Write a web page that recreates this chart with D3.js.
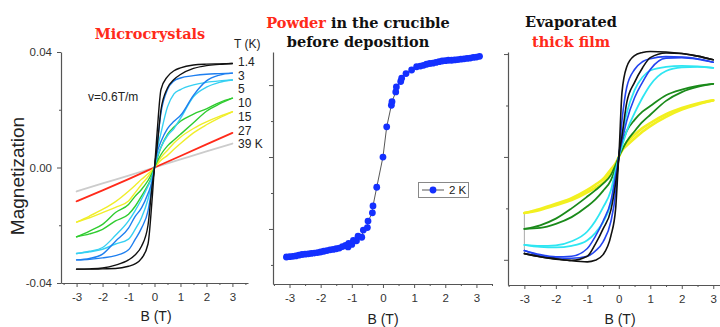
<!DOCTYPE html>
<html><head><meta charset="utf-8">
<script src="https://cdn.jsdelivr.net/npm/d3@7"></script>
<style>body{margin:0;background:#fff} svg{display:block}</style>
</head><body><svg id="c" width="720" height="327"></svg>
<script>
// ---------- shared ----------
const fieldGrid = [-3,-2.5,-2,-1.5,-1,-0.75,-0.5,-0.25,-0.1,0,0.1,0.25,0.5,0.75,1,1.5,2,2.5,3];
const linField = [-3,-2,-1,0,1,2,3];
const xMajorTicks = [-3,-2,-1,0,1,2,3];
const xTickLabels = ["-3","-2","-1","0","1","2","3"];
const xMinorTicks = [-3.5,-2.5,-1.5,-0.5,0.5,1.5,2.5,3.5];

// ---------- panel 1: microcrystals (values in units of 1e-3) ----------
const microTemps = ["1.4","3","5","10","15","27","39 K"];
const microColors = ["#111111","#1e7ff0","#36d0f2","#2fcc2f","#f0ee2a","#ff2a1a","#cccccc"];
const micro14Down = [-35.2,-35.1,-34.8,-33.8,-32.0,-30.3,-27.3,-20.0,-7.0,0,12.0,27.0,31.5,33.5,34.5,35.5,35.8,35.9,36.0];
const micro14Up   = [-35.2,-35.2,-35.1,-35.0,-34.2,-33.4,-31.5,-26.5,-12.0,0,7.0,20.0,27.5,30.5,32.2,34.3,35.3,35.7,36.0];
const micro3Down  = [-32.0,-31.5,-30.0,-25.5,-21.0,-17.0,-14.0,-9.0,-5.0,0,8.0,19.0,27.0,30.0,31.0,31.8,32.3,32.5,32.7];
const micro3Up    = [-32.0,-31.8,-31.3,-30.5,-28.5,-25.0,-21.0,-15.0,-7.0,0,5.0,9.0,13.5,16.0,18.0,25.0,30.0,32.0,32.7];
const micro5Down  = [-29.8,-29.0,-27.7,-23.5,-18.5,-15.0,-11.0,-6.5,-3.5,0,6.0,12.0,21.0,25.5,27.0,28.6,29.5,30.0,30.3];
const micro5Up    = [-29.8,-29.2,-28.3,-26.5,-24.8,-21.5,-17.4,-11.0,-5.0,0,3.5,7.0,11.0,13.5,17.0,24.5,27.8,29.5,30.3];
const micro10Down = [-24.0,-22.0,-19.7,-15.6,-12.8,-10.0,-7.6,-4.5,-2.0,0,3.0,7.0,11.5,14.0,16.0,18.5,20.3,22.5,24.0];
const micro10Up   = [-24.0,-23.0,-21.4,-18.5,-16.2,-13.5,-9.9,-6.0,-3.0,0,2.0,4.5,7.5,9.5,11.5,15.5,19.5,22.0,24.0];
const micro15Down = [-18.9,-16.8,-14.5,-11.8,-8.2,-6.2,-4.1,-2.2,-0.9,0,1.5,3.5,6.0,8.5,10.5,13.5,15.8,17.7,19.3];
const micro15Up   = [-18.9,-17.4,-15.6,-13.8,-11.6,-8.8,-5.9,-3.2,-1.3,0,1.0,2.5,4.2,6.3,8.3,12.0,14.8,17.2,19.3];
const micro27     = [-11.7,-7.9,-4.0,0,4.0,8.0,12.0];
const micro39     = [-8.3,-5.5,-2.8,0,2.8,5.6,8.3];
const microYTicks = [-40,0,40];
const microYTickLabels = ["-0.04","0.00","0.04"];
const microYMinor = [-20,20];

// ---------- panel 2: powder, 2 K ----------
const powderB = [-3.1,-3.0,-2.9,-2.8,-2.7,-2.6,-2.5,-2.4,-2.3,-2.2,-2.1,-2.0,-1.9,-1.8,-1.7,-1.6,-1.5,-1.4,-1.3,-1.2,-1.12,-1.1,-1.0,-0.95,-0.85,-0.8,-0.68,-0.63,-0.5,-0.48,-0.34,-0.32,-0.2,0,0.12,0.27,0.29,0.41,0.43,0.57,0.6,0.74,0.92,1.08,1.2,1.3,1.4,1.5,1.6,1.7,1.8,1.9,2.0,2.1,2.2,2.3,2.4,2.5,2.6,2.7,2.8,2.9,3.0,3.1];
const powderM = [-27.8,-27.7,-27.6,-27.5,-27.3,-27.1,-27.0,-26.9,-26.8,-26.7,-26.6,-26.4,-26.2,-26.0,-25.8,-25.7,-25.5,-25.3,-24.9,-24.6,-25.0,-24.0,-24.3,-23.2,-23.3,-22.0,-22.3,-20.3,-19.6,-17.8,-15.5,-13.6,-8.4,0,8.4,14.4,15.4,18.1,19.5,21.0,21.9,23.2,24.2,25.1,25.3,25.5,25.8,26.0,26.1,26.3,26.5,26.7,26.8,26.9,26.9,27.0,27.1,27.2,27.3,27.4,27.5,27.7,27.8,28.0];
const powderYMajor = [-20,0,20];
const powderYMinor = [-30,-10,10];
const powderLegend = "2 K";

// ---------- panel 3: evaporated thick film ----------
const filmColors = ["#f2f020","#1a8a1a","#2ee6f2","#2344f0","#111111"];
const filmYellowDown = [-10.9,-10.1,-9.1,-8.0,-6.4,-5.4,-4.3,-2.4,-1.2,0,1.5,2.8,4.3,5.6,6.6,8.3,9.5,10.4,11.0];
const filmYellowUp   = [-10.9,-10.3,-9.4,-8.4,-6.9,-6.0,-5.0,-3.0,-1.6,0,1.2,2.2,3.6,4.9,6.0,7.8,9.2,10.2,11.0];
const filmGreenDown  = [-14.0,-13.3,-12.0,-10.0,-7.7,-6.5,-5.2,-3.5,-1.5,0,2.5,5.0,7.2,8.8,9.9,12.0,13.1,13.8,14.2];
const filmGreenUp    = [-14.0,-13.8,-13.0,-11.7,-9.6,-8.3,-6.6,-4.5,-2.0,0,1.3,3.0,5.0,6.8,8.2,10.9,12.6,13.6,14.2];
const filmCyanDown   = [-17.1,-17.3,-17.2,-16.4,-14.5,-12.5,-9.8,-6.5,-2.5,0,4.0,8.5,13.0,15.5,16.8,17.5,17.7,17.6,17.3];
const filmCyanUp     = [-17.1,-17.5,-17.6,-17.3,-16.2,-14.8,-12.7,-9.0,-4.5,0,2.0,5.0,8.5,11.5,14.0,16.7,17.4,17.5,17.3];
const filmBlueDown   = [-18.2,-19.0,-19.4,-19.3,-17.8,-15.5,-12.5,-8.5,-3.5,0,7.0,13.5,17.0,18.5,19.1,19.5,19.4,19.1,18.4];
const filmBlueUp     = [-18.2,-19.2,-19.6,-19.7,-19.3,-18.3,-16.5,-12.5,-7.0,0,3.0,7.0,11.5,14.5,17.0,19.2,19.3,19.0,18.4];
const filmBlackDown  = [-18.8,-19.4,-19.9,-20.1,-19.3,-17.0,-14.0,-10.3,-5.0,0,12.5,17.5,19.7,20.3,20.5,20.4,20.1,19.6,18.9];
const filmBlackUp    = [-18.8,-19.4,-19.8,-20.2,-20.4,-20.1,-19.0,-15.3,-10.0,0,4.0,10.5,14.5,17.3,19.3,20.2,20.1,19.6,18.9];
const filmYMajor = [-20,0,20];
const filmYMinor = [-10,10];

// ---------- drawing ----------
const svg = d3.select("#c");
svg.append("rect").attr("width",720).attr("height",327).attr("fill","#fff");
const SANS = "'Liberation Sans', Arial, sans-serif";
const SERIF = "'DejaVu Serif', serif";
const AX = "#555";

function drawAxes(x, y, yMajor, yMinor, yLabels, showXLabels) {
  const g = svg.append("g");
  const y0 = y.range()[0], x0 = x.range()[0];
  g.append("g").attr("transform", `translate(0,${y0})`)
    .call(d3.axisBottom(x).tickValues(xMajorTicks).tickSize(4).tickSizeOuter(0).tickPadding(6)
      .tickFormat((d,i) => showXLabels ? xTickLabels[i] : ""));
  g.append("g").attr("transform", `translate(0,${y0})`)
    .call(d3.axisBottom(x).tickValues(xMinorTicks.filter(v => v>=x.domain()[0] && v<=x.domain()[1])).tickSize(2).tickFormat(""))
    .select(".domain").remove();
  g.append("g").attr("transform", `translate(${x0},0)`)
    .call(d3.axisLeft(y).tickValues(yMajor).tickSize(4).tickSizeOuter(0).tickPadding(5)
      .tickFormat((d,i) => yLabels ? yLabels[i] : ""));
  g.append("g").attr("transform", `translate(${x0},0)`)
    .call(d3.axisLeft(y).tickValues(yMinor).tickSize(2).tickFormat(""))
    .select(".domain").remove();
  g.selectAll("path.domain").attr("stroke", AX).attr("stroke-width", 1.2);
  g.selectAll(".tick line").attr("stroke", AX).attr("stroke-width", 1);
  g.selectAll("text").attr("font-family", SANS).attr("font-size", 11.5).attr("fill", "#333");
  return g;
}

function loopPath(g, x, y, field, vals, color, w) {
  const line = d3.line().x((d,i)=>x(field[i])).y(d=>y(d)).curve(d3.curveMonotoneX);
  g.append("path").attr("d", line(vals)).attr("fill","none").attr("stroke",color)
    .attr("stroke-width", w).attr("stroke-linejoin","round").attr("stroke-linecap","round");
}

// Panel 1
const x1 = d3.scaleLinear().domain([-3.6,3.6]).range([61,248]);
const y1 = d3.scaleLinear().domain([-40,40]).range([283,52]);
drawAxes(x1, y1, microYTicks, microYMinor, microYTickLabels, true);
const p1 = svg.append("g");
loopPath(p1, x1, y1, linField, micro39, microColors[6], 1.8);
loopPath(p1, x1, y1, linField, micro27, microColors[5], 1.8);
[[micro15Down,micro15Up,4],[micro10Down,micro10Up,3],[micro5Down,micro5Up,2],[micro3Down,micro3Up,1],[micro14Down,micro14Up,0]]
  .forEach(([dn,up,ci]) => { loopPath(p1,x1,y1,fieldGrid,dn,microColors[ci],1.4); loopPath(p1,x1,y1,fieldGrid,up,microColors[ci],1.4); });

svg.append("text").attr("x",150).attr("y",39).attr("text-anchor","middle")
  .attr("font-family",SERIF).attr("font-weight","bold").attr("font-size",14.5).attr("fill","#ff2a1a").text("Microcrystals");
svg.append("text").attr("x",234).attr("y",48).attr("font-family",SANS).attr("font-size",12).attr("fill","#222").text("T (K)");
microTemps.forEach((t,i) => svg.append("text").attr("x",238).attr("y",66 + i*13.7)
  .attr("font-family",SANS).attr("font-size",12).attr("fill","#222").text(t));
svg.append("text").attr("x",88).attr("y",101).attr("font-family",SANS).attr("font-size",12).attr("fill","#222").text("v=0.6T/m");
svg.append("text").attr("transform","translate(24,176) rotate(-90)").attr("text-anchor","middle")
  .attr("font-family",SANS).attr("font-size",19).attr("fill","#222").text("Magnetization");
svg.append("text").attr("x",156).attr("y",321).attr("text-anchor","middle").attr("font-family",SANS).attr("font-size",14).attr("fill","#222").text("B (T)");

// Panel 2
const x2 = d3.scaleLinear().domain([-3.53,3.5]).range([273,492]);
const y2 = d3.scaleLinear().domain([-35.3,29.2]).range([284,52]);
drawAxes(x2, y2, powderYMajor, powderYMinor, null, true);
const p2 = svg.append("g");
const pLine = d3.line().x((d,i)=>x2(powderB[i])).y(d=>y2(d));
p2.append("path").attr("d", pLine(powderM)).attr("fill","none").attr("stroke","#444").attr("stroke-width",0.9);
p2.selectAll("circle").data(powderM).join("circle")
  .attr("cx",(d,i)=>x2(powderB[i])).attr("cy",d=>y2(d)).attr("r",3.4).attr("fill","#1430ff");
const t2 = svg.append("text").attr("x",358).attr("y",27.5).attr("text-anchor","middle")
  .attr("font-family",SERIF).attr("font-weight","bold").attr("font-size",14.5).attr("fill","#111");
t2.append("tspan").attr("fill","#ff2a1a").text("Powder");
t2.append("tspan").text(" in the crucible");
svg.append("text").attr("x",358).attr("y",46.5).attr("text-anchor","middle")
  .attr("font-family",SERIF).attr("font-weight","bold").attr("font-size",14.5).attr("fill","#111").text("before deposition");
const lg = svg.append("g");
lg.append("rect").attr("x",418.5).attr("y",182.5).attr("width",50).attr("height",15).attr("fill","#fff").attr("stroke","#888");
lg.append("line").attr("x1",422).attr("x2",444).attr("y1",190).attr("y2",190).attr("stroke","#444").attr("stroke-width",0.9);
lg.append("circle").attr("cx",433).attr("cy",190).attr("r",3.4).attr("fill","#1430ff");
lg.append("text").attr("x",449).attr("y",194).attr("font-family",SANS).attr("font-size",11.5).attr("fill","#222").text(powderLegend);
svg.append("text").attr("x",383).attr("y",324).attr("text-anchor","middle").attr("font-family",SANS).attr("font-size",14).attr("fill","#222").text("B (T)");

// Panel 3
const x3 = d3.scaleLinear().domain([-3.52,3.5]).range([508,729]);
const y3 = d3.scaleLinear().domain([-24.9,20.4]).range([285,52]);
drawAxes(x3, y3, filmYMajor, filmYMinor, null, true);
const p3 = svg.append("g");
const startVals = [filmYellowDown[0], filmBlackDown[0]];
p3.append("line").attr("x1",x3(fieldGrid[0])).attr("x2",x3(fieldGrid[0]))
  .attr("y1",y3(startVals[0])).attr("y2",y3(startVals[1])).attr("stroke","#aaa").attr("stroke-width",1);
[[filmYellowDown,filmYellowUp,0,2.6],[filmGreenDown,filmGreenUp,1,1.8],[filmCyanDown,filmCyanUp,2,1.8],[filmBlueDown,filmBlueUp,3,1.6],[filmBlackDown,filmBlackUp,4,1.6]]
  .forEach(([dn,up,ci,w]) => { loopPath(p3,x3,y3,fieldGrid,dn,filmColors[ci],w); loopPath(p3,x3,y3,fieldGrid,up,filmColors[ci],w); });
svg.append("text").attr("x",571).attr("y",26.7).attr("text-anchor","middle")
  .attr("font-family",SERIF).attr("font-weight","bold").attr("font-size",14.5).attr("fill","#111").text("Evaporated");
svg.append("text").attr("x",571).attr("y",46.7).attr("text-anchor","middle")
  .attr("font-family",SERIF).attr("font-weight","bold").attr("font-size",14.5).attr("fill","#ff2a1a").text("thick film");
svg.append("text").attr("x",620).attr("y",324).attr("text-anchor","middle").attr("font-family",SANS).attr("font-size",14).attr("fill","#222").text("B (T)");
</script></body></html>
